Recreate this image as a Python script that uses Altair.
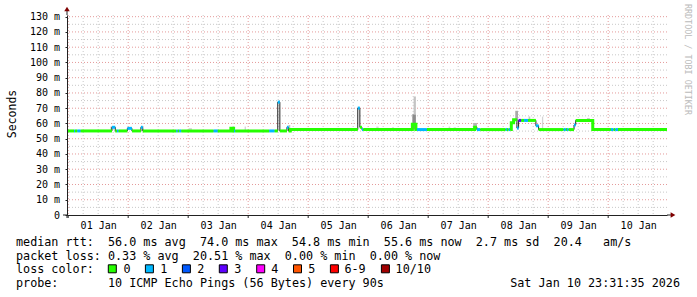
import altair as alt
import pandas as pd

T0 = pd.Timestamp("2026-01-01 00:00:00")
START = "2025-12-31 23:31:35"
END = "2026-01-10 23:31:35"

# ---- median RTT steps (ms) with number of lost pings ----
step_time = [
    "2025-12-31 23:32", "2026-01-01 02:20", "2026-01-01 02:45", "2026-01-01 03:40", "2026-01-01 05:00",
    "2026-01-01 17:30", "2026-01-01 18:50", "2026-01-01 19:30", "2026-01-01 20:10", "2026-01-01 23:40",
    "2026-01-02 01:30", "2026-01-02 05:05", "2026-01-02 05:50", "2026-01-02 19:15", "2026-01-02 19:50",
    "2026-01-02 20:25", "2026-01-02 21:15", "2026-01-03 10:10", "2026-01-03 11:50", "2026-01-03 17:05",
    "2026-01-03 18:10", "2026-01-03 18:20", "2026-01-03 18:50", "2026-01-04 08:25", "2026-01-04 10:35",
    "2026-01-04 11:50", "2026-01-04 12:40", "2026-01-04 15:30", "2026-01-04 16:10", "2026-01-04 16:50",
    "2026-01-05 19:50", "2026-01-05 20:40", "2026-01-05 21:30", "2026-01-05 22:00", "2026-01-06 17:40",
    "2026-01-06 19:05", "2026-01-06 19:30", "2026-01-06 23:30", "2026-01-07 18:35", "2026-01-07 19:30",
    "2026-01-07 20:50", "2026-01-08 07:00", "2026-01-08 07:30", "2026-01-08 08:10", "2026-01-08 08:50",
    "2026-01-08 09:15", "2026-01-08 10:10", "2026-01-08 11:30", "2026-01-08 12:10", "2026-01-08 13:10",
    "2026-01-08 14:20", "2026-01-08 15:55", "2026-01-08 19:05", "2026-01-08 20:10", "2026-01-09 06:10",
    "2026-01-09 07:05", "2026-01-09 07:30", "2026-01-09 08:10", "2026-01-09 10:20", "2026-01-09 11:00",
    "2026-01-09 17:50", "2026-01-10 01:05", "2026-01-10 02:10", "2026-01-10 02:50", "2026-01-10 03:55",
]
step_median = [
    55.1, 55.1, 55.1, 55.1, 55.1,
    57.5, 55.1, 55.1, 55.1, 56.8,
    55.1, 57.5, 55.1, 55.1, 55.1,
    55.1, 55.1, 55.1, 55.1, 56.8,
    55.1, 55.1, 55.1, 55.1, 55.1,
    74.0, 55.1, 57.5, 55.1, 56.0,
    70.1, 57.5, 56.0, 56.0, 59.5,
    56.0, 56.0, 56.0, 57.5, 56.0,
    56.0, 56.0, 56.0, 56.0, 56.0,
    60.5, 62.5, 57.0, 62.0, 62.0,
    62.0, 62.0, 58.5, 56.0, 56.0,
    56.0, 56.0, 56.0, 59.0, 62.0,
    56.0, 56.0, 56.0, 56.0, 56.0,
]
step_loss = [
    0, 1, 0, 1, 0,
    1, 0, 1, 0, 1,
    0, 1, 0, 1, 0,
    1, 0, 1, 0, 0,
    0, 1, 0, 1, 0,
    1, 0, 1, 0, 0,
    1, 0, 1, 0, 0,
    0, 1, 0, 0, 1,
    0, 1, 0, 1, 0,
    0, 0, 1, 3, 0,
    1, 0, 1, 0, 1,
    0, 1, 0, 1, 0,
    0, 1, 0, 1, 0,
]

# ---- smoke (spread of the individual pings) ----
smoke_start = ["2026-01-01 17:00", "2026-01-03 00:10", "2026-01-03 22:35", "2026-01-04 16:10",
               "2026-01-06 03:15", "2026-01-06 09:30", "2026-01-06 17:40", "2026-01-06 18:10",
               "2026-01-07 08:10", "2026-01-07 10:10", "2026-01-07 18:00", "2026-01-08 10:50",
               "2026-01-08 16:10", "2026-01-08 21:30", "2026-01-09 15:30"]
smoke_end = ["2026-01-01 17:30", "2026-01-03 01:30", "2026-01-03 23:05", "2026-01-04 16:50",
             "2026-01-06 04:10", "2026-01-06 10:20", "2026-01-06 19:05", "2026-01-06 19:05",
             "2026-01-07 08:50", "2026-01-07 11:05", "2026-01-07 19:30", "2026-01-08 11:55",
             "2026-01-08 16:50", "2026-01-08 22:00", "2026-01-09 16:40"]
smoke_low = [55.5, 55.5, 55.5, 55.5, 56.5, 56.5, 56.0, 66.0, 56.5, 56.5, 56.0, 62.0, 62.0, 56.5, 62.0]
smoke_high = [58.0, 57.0, 58.0, 59.0, 58.0, 57.5, 66.0, 77.7, 58.0, 57.5, 60.3, 68.3, 64.6, 64.5, 63.5]
smoke_shade = ["#a0a0a0", "#d8d8d8", "#d0d0d0", "#c0c0c0", "#d8d8d8", "#d8d8d8", "#8c8c8c", "#c4c4c4",
               "#d8d8d8", "#d8d8d8", "#b4b4b4", "#a8a8a8", "#c8c8c8", "#d4d4d4", "#c4c4c4"]

loss_levels = [0, 1, 2, 3, 4, 5, 6, 10]
loss_names = ["0", "1", "2", "3", "4", "5", "6-9", "10/10"]
loss_colors = ["#26ff00", "#00b8ff", "#0059ff", "#5e00ff", "#ff00fe", "#ff5500", "#ff0000", "#a10000"]

y_major = [10, 20, 30, 40, 50, 60, 70, 80, 90, 100, 110, 120, 130]
y_minor = [5, 15, 25, 35, 45, 55, 65, 75, 85, 95, 105, 115, 125]
y_ticks = [0] + y_major
day_count = 10

# legend text pieces: (text, column in characters, row baseline)
legend_lines = [
    ("median rtt:", 0, 245.5), ("56.0 ms avg", 13, 245.5), ("74.0 ms max", 26, 245.5),
    ("54.8 ms min", 39, 245.5), ("55.6 ms now", 52, 245.5), ("2.7 ms sd", 65, 245.5),
    ("20.4", 76, 245.5), ("am/s", 83, 245.5),
    ("packet loss:", 0, 259.5), ("0.33 % avg", 13, 259.5), ("20.51 % max", 25, 259.5),
    ("0.00 % min", 38, 259.5), ("0.00 % now", 50, 259.5),
    ("loss color:", 0, 273.3),
    ("probe:", 0, 287.3), ("10 ICMP Echo Pings (56 Bytes) every 90s", 13, 287.3),
]
box_x = [112.3, 149.4, 186.4, 223.3, 260.7, 297.5, 334.4, 385.4]
box_label_x = [123.5, 160.3, 197.2, 234.2, 271.2, 308.2, 344.4, 395.6]
stamp_text = "Sat Jan 10 23:31:35 2026"

# ---------------------------------------------------------------
FONT = "DejaVu Sans Mono"
LEG_SIZE = 11.75
CHAR_W = 0.602 * LEG_SIZE
TEXT_X0 = 16
LEFT, TOP = 67, 15


def hrs(s):
    return float((pd.Timestamp(s) - T0) / pd.Timedelta(hours=1))


h0, h1 = hrs(START), hrs(END)
midnights = [24.0 * d for d in range(day_count)]
noons = [24.0 * d + 12 for d in range(day_count)]
six_h = [24.0 * d + o for d in range(day_count) for o in (6, 12, 18)]

th = [hrs(s) for s in step_time]
thin_rows = [{"h": t, "v": m} for t, m in zip(th, step_median)]
thin_rows.append({"h": h1, "v": step_median[-1]})

col_rows = []
run = 0
for i in range(len(th)):
    if i > 0 and step_loss[i] != step_loss[i - 1]:
        run += 1
    col_rows.append({"h": th[i], "v": step_median[i], "loss": step_loss[i], "run": run})
    last = (i + 1 == len(th)) or (step_loss[i + 1] != step_loss[i])
    if last:
        t_next = th[i + 1] if i + 1 < len(th) else h1
        col_rows.append({"h": t_next, "v": step_median[i], "loss": step_loss[i], "run": run})

smoke_df = pd.DataFrame({
    "h": [hrs(s) for s in smoke_start], "h2": [hrs(s) for s in smoke_end],
    "v": smoke_low, "v2": smoke_high, "shade": smoke_shade,
})

x_scale = alt.Scale(domain=[h0, h1], nice=False, zero=False)
y_scale = alt.Scale(domain=[0, 131.1], nice=False, zero=False)

x_axis = alt.Axis(
    values=noons,
    labelExpr="(floor(datum.value / 24) + 1 < 10 ? '0' : '') + (floor(datum.value / 24) + 1) + ' Jan'",
    grid=False, ticks=False, tickSize=0, domainColor="#222", domainWidth=1,
    labelFont=FONT, labelFontSize=10, labelColor="#000", labelBaseline="alphabetic",
    labelPadding=13.5, labelOverlap=False, labelFlush=False, title=None, zindex=1,
)
y_axis = alt.Axis(
    values=y_ticks,
    labelExpr="datum.value == 0 ? '0\u00a0\u00a0' : datum.value + ' m'",
    grid=False, tickSize=2, tickColor="#222", domainColor="#222", domainWidth=1,
    labelFont=FONT, labelFontSize=10, labelColor="#000", labelPadding=5.5,
    title="Seconds", titleFont=FONT, titleFontSize=11.5, titleFontWeight="normal",
    titleColor="#000", titleX=-52, titleY=98.5, titleBaseline="alphabetic", titleAlign="center",
    zindex=1,
)
X = alt.X("h:Q", scale=x_scale, axis=x_axis)
Y = alt.Y("v:Q", scale=y_scale, axis=y_axis)

grid_minor_h = alt.Chart(pd.DataFrame({"v": y_minor})).mark_rule(
    color="#c8c8c8", strokeDash=[1, 2], strokeWidth=1).encode(y=Y)
grid_minor_v = alt.Chart(pd.DataFrame({"h": six_h})).mark_rule(
    color="#c8c8c8", strokeDash=[1, 2], strokeWidth=1).encode(x=X)
grid_major_h = alt.Chart(pd.DataFrame({"v": y_major})).mark_rule(
    color="#e49a9a", strokeDash=[1, 2], strokeWidth=1).encode(y=Y)
grid_major_v = alt.Chart(pd.DataFrame({"h": midnights})).mark_rule(
    color="#e49a9a", strokeDash=[1, 2], strokeWidth=1).encode(x=X)

day_ticks = alt.Chart(pd.DataFrame({"h": midnights, "v": [0.0] * day_count})).mark_rule(
    color="#222", y2Offset=3).encode(x=X, y=Y, y2="v:Q")

smoke = alt.Chart(smoke_df).mark_rect().encode(
    x=X, x2="h2:Q", y=Y, y2="v2:Q", color=alt.Color("shade:N", scale=None))

thin_line = alt.Chart(pd.DataFrame(thin_rows)).mark_line(
    interpolate="step-after", color="#202020", strokeWidth=1).encode(x=X, y=Y)

color_line = alt.Chart(pd.DataFrame(col_rows)).mark_line(
    interpolate="step-after", strokeWidth=3).encode(
    x=X, y=Y, detail="run:N",
    color=alt.Color("loss:N", scale=alt.Scale(domain=loss_levels, range=loss_colors), legend=None),
)

corner = pd.DataFrame({"h": [h0], "v": [131.1]})
origin_end = pd.DataFrame({"h": [h1], "v": [0.0]})
origin = pd.DataFrame({"h": [h0], "v": [0.0]})
y_ext = alt.Chart(corner).mark_rule(color="#222", y2Offset=-4).encode(x=X, y=Y, y2="v:Q")
y_arrow = alt.Chart(corner).mark_point(
    shape="triangle-up", filled=True, size=30, color="#7f0000", opacity=1, yOffset=-6).encode(x=X, y=Y)
x_ext = alt.Chart(origin_end).mark_rule(color="#222", x2Offset=4).encode(x=X, x2="h:Q", y=Y)
x_arrow = alt.Chart(origin_end).mark_point(
    shape="triangle-right", filled=True, size=30, color="#7f0000", opacity=1, xOffset=6).encode(x=X, y=Y)
x_left = alt.Chart(origin).mark_rule(color="#222", x2Offset=-4).encode(x=X, x2="h:Q", y=Y)
y_down = alt.Chart(origin).mark_rule(color="#222", y2Offset=3).encode(x=X, y=Y, y2="v:Q")

# ---- legend / text block ----
txt_df = pd.DataFrame({
    "t": [a for a, _, _ in legend_lines] + loss_names,
    "x": [TEXT_X0 + b * CHAR_W - LEFT for _, b, _ in legend_lines] + [b - LEFT for b in box_label_x],
    "y": [c - TOP for _, _, c in legend_lines] + [273.3 - TOP] * len(loss_names),
})
legend_text = alt.Chart(txt_df).mark_text(
    align="left", baseline="alphabetic", font=FONT, fontSize=LEG_SIZE, color="#000").encode(
    x=alt.X("x:Q", scale=None, axis=None), y=alt.Y("y:Q", scale=None, axis=None), text="t:N")

stamp = alt.Chart(pd.DataFrame({"t": [stamp_text]})).mark_text(
    align="right", baseline="alphabetic", font=FONT, fontSize=LEG_SIZE, color="#000").encode(
    x=alt.value(680 - LEFT), y=alt.value(287.3 - TOP), text="t:N")

box_df = pd.DataFrame({"x": [b - LEFT for b in box_x], "y": [268.8 - TOP] * len(box_x),
                       "c": loss_colors})
boxes = alt.Chart(box_df).mark_square(size=64, stroke="#000", strokeWidth=1, opacity=1).encode(
    x=alt.X("x:Q", scale=None, axis=None), y=alt.Y("y:Q", scale=None, axis=None),
    color=alt.Color("c:N", scale=None))

watermark = alt.Chart(pd.DataFrame({"t": ["RRDTOOL / TOBI OETIKER"]})).mark_text(
    angle=90, align="left", baseline="alphabetic", font=FONT, fontSize=8.4, color="#bbbbbb").encode(
    x=alt.value(685 - LEFT), y=alt.value(4 - TOP), text="t:N")

chart = alt.layer(
    grid_minor_h, grid_minor_v, grid_major_h, grid_major_v,
    smoke, thin_line, color_line,
    day_ticks, y_ext, x_ext, x_left, y_down, y_arrow, x_arrow,
    legend_text, stamp, boxes, watermark,
).properties(
    width=600, height=200,
    autosize=alt.AutoSizeParams(type="none"),
    padding={"left": LEFT, "top": TOP, "right": 30, "bottom": 82},
    background="white",
).configure_view(stroke=None)

chart.save("out.html", embed_options={"renderer": "svg", "actions": False})
